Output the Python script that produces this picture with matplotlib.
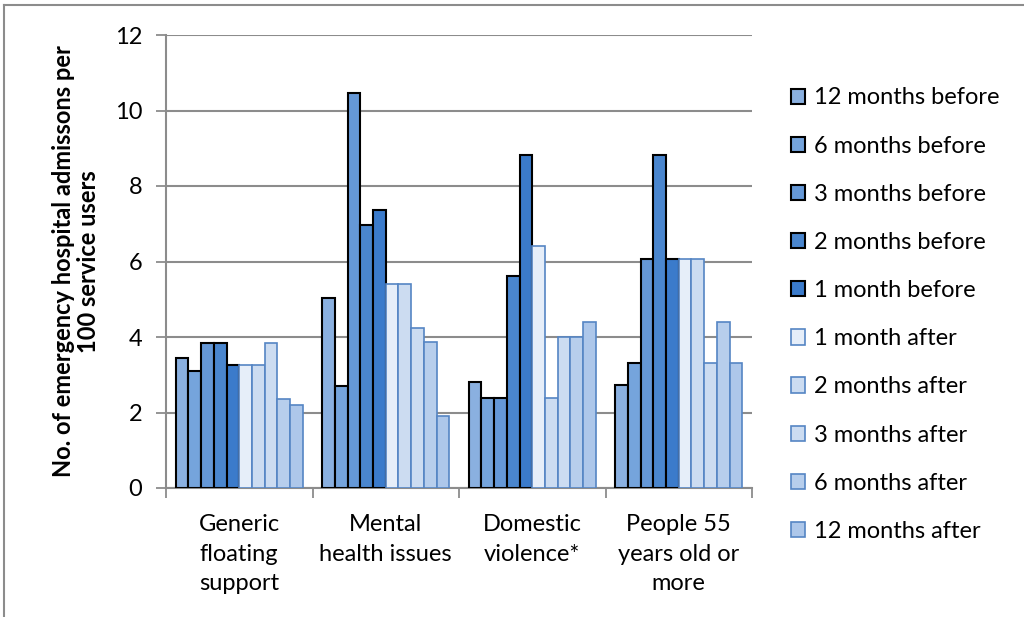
import matplotlib.pyplot as plt
import numpy as np
from matplotlib.lines import Line2D

plt.rcParams['font.family'] = ['Lato', 'DejaVu Sans']

categories = ['Generic\nfloating\nsupport', 'Mental\nhealth issues',
              'Domestic\nviolence*', 'People 55\nyears old or\nmore']
series = ['12 months before', '6 months before', '3 months before',
          '2 months before', '1 month before', '1 month after',
          '2 months after', '3 months after', '6 months after',
          '12 months after']
values = [
    [3.45, 5.02, 2.80, 2.74],   # 12 months before
    [3.10, 2.69, 2.39, 3.30],   # 6 months before
    [3.84, 10.47, 2.39, 6.07],  # 3 months before
    [3.84, 6.97, 5.61, 8.83],   # 2 months before
    [3.27, 7.36, 8.82, 6.07],   # 1 month before
    [3.27, 5.41, 6.40, 6.07],   # 1 month after
    [3.27, 5.41, 2.39, 6.07],   # 2 months after
    [3.84, 4.24, 3.99, 3.30],   # 3 months after
    [2.36, 3.87, 3.99, 4.40],   # 6 months after
    [2.19, 1.91, 4.40, 3.30],   # 12 months after
]

fills = ['#8AB0E0', '#75A4DC', '#6598D7', '#4A86CE', '#3B7BCB',
         '#E6EEF9', '#CCDCF1', '#CCDCF1', '#B7CEEC', '#ADC7EA']
edges = ['black'] * 5 + ['#5585C4'] * 5

fig = plt.figure(figsize=(10.24, 6.17), dpi=100)
ax = fig.add_axes([166 / 1024, 1 - 488 / 617, 586 / 1024, 453 / 617])

n = len(series)
w = 1 / 11.5
x = np.arange(len(categories))
for i, (vals, fc, ec) in enumerate(zip(values, fills, edges)):
    offs = (i - (n - 1) / 2) * w
    ax.bar(x + offs, vals, width=w, color=fc, edgecolor=ec,
           linewidth=1.5 if i < 5 else 1.2, label=series[i], zorder=3)

ax.set_xlim(-0.5, len(categories) - 0.5)
ax.set_ylim(0, 12)
ax.set_yticks(range(0, 13, 2))
ax.yaxis.grid(True, color='#8c8c8c', linewidth=1.5, zorder=0)
ax.set_xticks(x)
ax.set_xticklabels(categories, fontsize=17, linespacing=1.48, va='top')
ax.set_xticks(np.arange(-0.5, len(categories)), minor=True)
ax.tick_params(axis='x', which='major', length=0, pad=19)
ax.tick_params(axis='x', which='minor', length=7, color='#8c8c8c', width=1.3)
ax.tick_params(axis='y', length=7, color='#8c8c8c', width=1.3,
               labelsize=17, pad=10)
for s in ['top', 'right']:
    ax.spines[s].set_visible(False)
for s in ['left', 'bottom']:
    ax.spines[s].set_color('#8c8c8c')
    ax.spines[s].set_linewidth(1.5)

ax.set_ylabel('No. of emergency hospital admissons per\n100 service users',
              fontsize=17, fontweight='bold', linespacing=1.1)
ax.yaxis.set_label_coords(-0.112, 0.5)

ax.legend(loc='upper left', bbox_to_anchor=(1.05, 0.905), frameon=False,
          fontsize=17, handlelength=0.62, handleheight=0.62,
          handletextpad=0.35, labelspacing=1.15, borderaxespad=0)

# outer chart frame (top and left edges)
fig.add_artist(Line2D([4 / 1024, 1], [1 - 5 / 617, 1 - 5 / 617],
                      color='#8c8c8c', linewidth=1.5))
fig.add_artist(Line2D([4 / 1024, 4 / 1024], [0, 1 - 5 / 617],
                      color='#8c8c8c', linewidth=1.5))

plt.savefig('out.png', dpi=100)
